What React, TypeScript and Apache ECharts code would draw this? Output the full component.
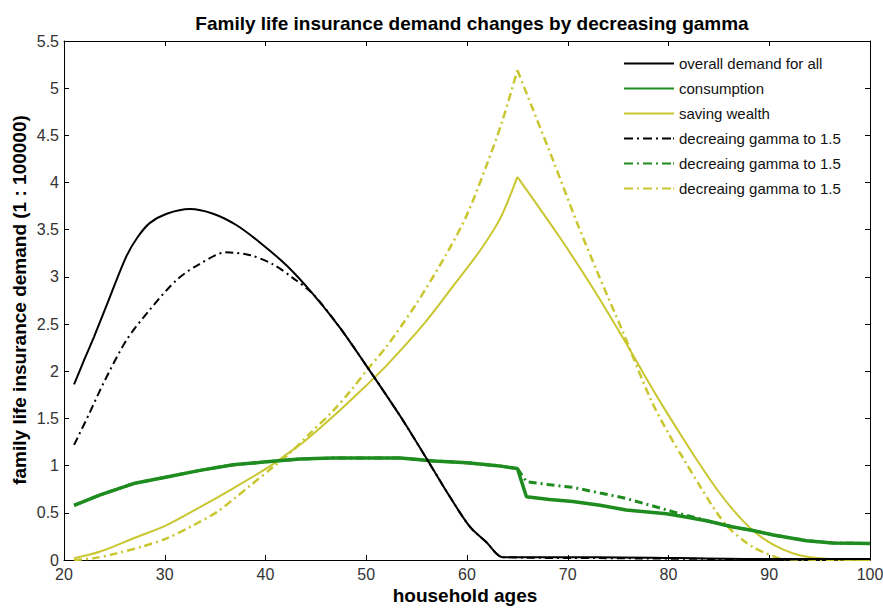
import React, { useEffect, useRef } from "react";
import * as echarts from "echarts";

const FONT = "'Liberation Sans', Arial, sans-serif";

const titleText = "Family life insurance demand changes by decreasing gamma";
const xAxisTitle = "household ages";
const yAxisTitle = "family life insurance demand (1 : 100000)";

const seriesNames = [
  "overall demand for all",
  "consumption",
  "saving wealth",
  "decreaing gamma to 1.5",
  "decreaing gamma to 1.5 ",
  "decreaing gamma to 1.5  ",
];

// overall demand for all (black solid)
const overallAges = [21, 22, 23, 24.6, 26.2, 27.3, 28.5, 30.2, 32.5, 34.8, 37.1, 39.5, 42.1, 44.7, 47.4, 50, 53.4, 56.3, 58.3, 60.3, 62, 62.9, 63.5, 73, 89, 100];
const overallValues = [1.86, 2.12, 2.37, 2.8, 3.22, 3.42, 3.57, 3.67, 3.72, 3.67, 3.55, 3.36, 3.12, 2.82, 2.46, 2.06, 1.52, 1.02, 0.67, 0.35, 0.18, 0.07, 0.03, 0.03, 0.01, 0.01];

// consumption (green solid)
const consumptionAges = [21, 23.6, 26.9, 30.2, 33.5, 36.8, 40.1, 43.4, 46.7, 50, 53.4, 56.7, 60, 63, 65, 65.9, 68.2, 70.5, 73.2, 75.8, 79.8, 82, 84, 86.4, 88.5, 90.4, 93.7, 96.3, 100];
const consumptionValues = [0.58, 0.69, 0.81, 0.88, 0.95, 1.01, 1.04, 1.07, 1.08, 1.08, 1.08, 1.05, 1.03, 1.0, 0.97, 0.67, 0.64, 0.62, 0.58, 0.53, 0.49, 0.45, 0.41, 0.35, 0.31, 0.265, 0.205, 0.18, 0.175];

// saving wealth (yellow solid)
const savingAges = [21, 23.6, 26.9, 30.2, 33.5, 36.8, 40.1, 42.1, 44, 46.7, 50, 52, 55.7, 58.6, 61.3, 63.3, 65, 69.2, 72.5, 75.5, 77.5, 79.5, 81.5, 83, 84.8, 86.5, 88.1, 89.8, 91.4, 93, 94.7, 97, 100];
const savingValues = [0.02, 0.09, 0.23, 0.37, 0.56, 0.76, 0.97, 1.12, 1.27, 1.52, 1.85, 2.06, 2.5, 2.9, 3.28, 3.62, 4.06, 3.42, 2.88, 2.35, 1.98, 1.62, 1.28, 1.03, 0.75, 0.52, 0.34, 0.2, 0.11, 0.05, 0.02, 0.005, 0];

// decreasing gamma: overall (black dash-dot)
const gammaOverallAges = [21, 22.5, 23.9, 26.2, 28.5, 31.2, 33.5, 36.1, 38.5, 40.8, 42.7, 44.7, 47.4, 50, 53.4, 56.3, 58.3, 60.3, 62, 62.9, 63.5, 73, 89, 100];
const gammaOverallValues = [1.22, 1.55, 1.87, 2.33, 2.65, 2.97, 3.14, 3.26, 3.23, 3.13, 2.99, 2.82, 2.46, 2.06, 1.52, 1.02, 0.67, 0.35, 0.18, 0.07, 0.03, 0.02, 0.01, 0.01];

// decreasing gamma: consumption (green dash-dot)
const gammaConsumptionAges = [21, 23.6, 26.9, 30.2, 33.5, 36.8, 40.1, 43.4, 46.7, 50, 53.4, 56.7, 60, 63, 65, 65.9, 68, 70.5, 73.2, 75.5, 78.2, 80.5, 83, 84, 86.4, 88.5, 90.4, 93.7, 96.3, 100];
const gammaConsumptionValues = [0.58, 0.69, 0.81, 0.88, 0.95, 1.01, 1.04, 1.07, 1.08, 1.08, 1.08, 1.05, 1.03, 1.0, 0.97, 0.83, 0.8, 0.77, 0.71, 0.66, 0.58, 0.51, 0.44, 0.41, 0.35, 0.31, 0.265, 0.205, 0.18, 0.175];

// decreasing gamma: saving wealth (yellow dash-dot)
const gammaSavingAges = [21, 23, 25.2, 27.7, 30.2, 32.7, 35.2, 37, 38.5, 40.8, 42.4, 44.5, 46.7, 48.5, 50.2, 52, 55, 58, 60, 62, 63.5, 65, 68.6, 70.9, 72.9, 75.5, 78.2, 80, 81.5, 83.2, 84.8, 86, 87.4, 88.5, 89.7, 91.5, 100];
const gammaSavingValues = [0, 0.02, 0.07, 0.14, 0.23, 0.36, 0.51, 0.66, 0.79, 0.99, 1.13, 1.35, 1.58, 1.8, 2.03, 2.26, 2.72, 3.25, 3.66, 4.2, 4.65, 5.19, 4.22, 3.58, 3.06, 2.41, 1.71, 1.34, 1.07, 0.77, 0.5, 0.34, 0.21, 0.13, 0.07, 0.01, 0];

// age at which saving wealth peaks (retirement)
const retirementAge = 65;

const xMin = 20;
const xMax = 100;
const xStep = 10;
const yMin = 0;
const yMax = 5.5;
const yStep = 0.5;

const BLACK = "#000000";
const GREEN = "#1e8c1e";
const YELLOW = "#c9c630";
const DASH_DOT = [8, 4, 2, 4];

// legend icons: thin bars (solid) and dash-dot bars, drawn as paths
const SOLID_ICON = "path://M0,0H50V2H0Z";
const DASHDOT_ICON =
  "path://M0,0H9V2H0Z M13,0H15V2H13Z M19,0H28V2H19Z M32,0H34V2H32Z M38,0H47V2H38Z M49,0H50V2H49Z";

const pairs = (xs: number[], ys: number[]) => xs.map((x, i) => [x, ys[i]]);

function buildOption(): any {
  const axisBase = {
    type: "value",
    axisLine: { show: true, onZero: false, lineStyle: { color: "#000", width: 1 } },
    axisTick: { show: true, inside: true, length: 5, lineStyle: { color: "#000" } },
    splitLine: { show: false },
  };
  const mkLine = (
    name: string,
    data: number[][],
    color: string,
    width: number,
    dashed: boolean,
    z: number,
    smooth: number | boolean
  ) => ({
    type: "line",
    name,
    data,
    xAxisIndex: 0,
    yAxisIndex: 0,
    symbol: "none",
    showSymbol: false,
    smooth,
    z,
    lineStyle: { color, width, type: dashed ? DASH_DOT : "solid" },
    itemStyle: { color },
  });
  // split a series at the peak so that each side can be smoothed while the peak stays sharp
  const splitAt = (xs: number[], ys: number[]) => {
    const all = pairs(xs, ys);
    const rise = all.filter((p) => p[0] <= retirementAge);
    const fall = all.filter((p) => p[0] >= retirementAge);
    return [rise, fall];
  };
  const [savRise, savFall] = splitAt(savingAges, savingValues);
  const [gSavRise, gSavFall] = splitAt(gammaSavingAges, gammaSavingValues);
  return {
    animation: false,
    backgroundColor: "#ffffff",
    title: {
      text: titleText,
      left: 467,
      top: 9,
      textAlign: "center",
      textStyle: { fontFamily: FONT, fontSize: 19, fontWeight: "bold", color: "#000" },
    },
    grid: { left: 64, right: 13, top: 41, bottom: 49, containLabel: false, outerBoundsMode: "none" },
    legend: {
      orient: "vertical",
      left: 624,
      top: 54,
      itemWidth: 50,
      itemHeight: 2.5,
      itemGap: 10,
      backgroundColor: "#ffffff",
      padding: [2, 6, 2, 0],
      data: seriesNames.map((n, i) => ({ name: n, icon: i < 3 ? SOLID_ICON : DASHDOT_ICON })),
      formatter: (n: string) => n.trim(),
      textStyle: { fontFamily: FONT, fontSize: 15, color: "#111" },
    },
    xAxis: [
      {
        ...axisBase,
        position: "bottom",
        min: xMin,
        max: xMax,
        interval: xStep,
        axisLabel: { fontFamily: FONT, fontSize: 16, color: "#333", margin: 6, showMinLabel: true, showMaxLabel: true },
      },
      {
        ...axisBase,
        position: "top",
        min: xMin,
        max: xMax,
        interval: xStep,
        axisLabel: { show: false },
      },
    ],
    yAxis: [
      {
        ...axisBase,
        position: "left",
        min: yMin,
        max: yMax,
        interval: yStep,
        axisLabel: { fontFamily: FONT, fontSize: 16, color: "#333", margin: 5, showMinLabel: true, showMaxLabel: true },
      },
      {
        ...axisBase,
        position: "right",
        min: yMin,
        max: yMax,
        interval: yStep,
        axisLabel: { show: false },
      },
    ],
    graphic: [
      {
        type: "text",
        x: 465,
        y: 595,
        style: { text: xAxisTitle, fontFamily: FONT, fontSize: 19, fontWeight: "bold", fill: "#000", textAlign: "center", textVerticalAlign: "middle" },
      },
      {
        type: "text",
        x: 19,
        y: 300,
        rotation: Math.PI / 2,
        style: { text: yAxisTitle, fontFamily: FONT, fontSize: 19, fontWeight: "bold", fill: "#000", textAlign: "center", textVerticalAlign: "middle" },
      },
    ],
    series: [
      mkLine(seriesNames[0], pairs(overallAges, overallValues), BLACK, 2, false, 6, 0.3),
      mkLine(seriesNames[1], pairs(consumptionAges, consumptionValues), GREEN, 3.5, false, 4, false),
      mkLine(seriesNames[2], savRise, YELLOW, 2, false, 3, 0.3),
      mkLine(seriesNames[2], savFall, YELLOW, 2, false, 3, 0.3),
      mkLine(seriesNames[3], pairs(gammaOverallAges, gammaOverallValues), BLACK, 2, true, 5, 0.3),
      mkLine(seriesNames[4], pairs(gammaConsumptionAges, gammaConsumptionValues), GREEN, 3, true, 3, false),
      mkLine(seriesNames[5], gSavRise, YELLOW, 2.5, true, 2, 0.3),
      mkLine(seriesNames[5], gSavFall, YELLOW, 2.5, true, 2, 0.3),
    ],
  };
}

export default function App() {
  const ref = useRef<HTMLDivElement>(null);
  useEffect(() => {
    if (!ref.current) return;
    const chart = echarts.init(ref.current, null, { renderer: "svg" });
    chart.setOption(buildOption());
    return () => chart.dispose();
  }, []);
  return (
    <div
      ref={ref}
      style={{ position: "absolute", left: 0, top: 0, width: 883, height: 609, background: "#fff" }}
    />
  );
}
